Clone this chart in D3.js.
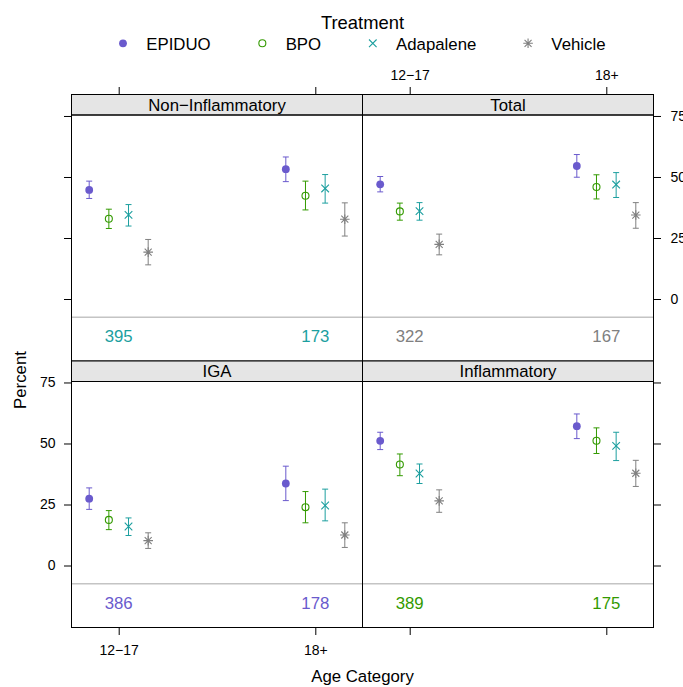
<!DOCTYPE html>
<html>
<head>
<meta charset="utf-8">
<script src="https://cdn.jsdelivr.net/npm/d3@7"></script>
<style>
  html, body { margin: 0; padding: 0; background: #ffffff; }
  svg { display: block; }
  text { font-family: "Liberation Sans", Arial, Helvetica, sans-serif; }
</style>
</head>
<body>
<script>
// ---- data -------------------------------------------------------------
const measures = ["Non\u2212Inflammatory", "Total", "IGA", "Inflammatory"];
const ageGroups = ["12\u221217", "18+"];
const treatments = ["EPIDUO", "BPO", "Adapalene", "Vehicle"];
const yTicks = [0, 25, 50, 75];

// success percent per treatment, [12−17, 18+]
const nonInflammatoryPct = [[44.7, 53.2], [32.9, 42.3], [34.5, 45.3], [19.2, 32.7]];
const nonInflammatoryLow = [[41.2, 48.1], [28.9, 36.5], [29.9, 39.3], [14.0, 25.8]];
const nonInflammatoryHigh = [[48.3, 58.2], [36.8, 48.3], [38.7, 51.0], [24.4, 39.4]];

const totalPct = [[47.0, 54.5], [35.9, 45.9], [36.0, 46.9], [22.4, 34.4]];
const totalLow = [[43.9, 49.9], [32.3, 41.0], [32.3, 41.6], [18.1, 29.0]];
const totalHigh = [[50.2, 59.2], [39.3, 50.9], [39.5, 51.8], [26.6, 39.5]];

const igaPct = [[27.4, 33.6], [18.7, 23.9], [16.0, 24.6], [10.2, 12.5]];
const igaLow = [[23.0, 26.6], [14.7, 17.5], [12.3, 18.3], [7.0, 7.4]];
const igaHigh = [[31.8, 40.7], [22.5, 30.3], [19.5, 31.3], [13.4, 17.5]];

const inflammatoryPct = [[51.1, 57.1], [41.4, 51.1], [37.7, 49.0], [26.5, 37.8]];
const inflammatoryLow = [[47.5, 52.0], [36.8, 45.9], [33.6, 43.0], [21.8, 32.4]];
const inflammatoryHigh = [[54.6, 62.1], [45.7, 56.4], [41.6, 54.6], [31.0, 43.1]];

// number of subjects per age group, one row per measure
const subjectCounts = [[395, 173], [322, 167], [386, 178], [389, 175]];

// ---- styling ----------------------------------------------------------
const colours = ["#6a5acd", "#339a00", "#1c9f9f", "#808080"];
const countColourIndex = [2, 3, 0, 1];
const fontFamily = '"Liberation Sans", Arial, Helvetica, sans-serif';

const W = 683, H = 687;
const plotLeft = 71.5, panelW = 291;
const plotTop = 94.5, stripH = 20.5, bodyH = 246;
const tickLen = 7.5;

const pctSeries = [
  [nonInflammatoryPct, nonInflammatoryLow, nonInflammatoryHigh],
  [totalPct, totalLow, totalHigh],
  [igaPct, igaLow, igaHigh],
  [inflammatoryPct, inflammatoryLow, inflammatoryHigh]
];

const svg = d3.select("body").append("svg")
  .attr("width", W).attr("height", H)
  .attr("viewBox", `0 0 ${W} ${H}`);

// dodge of each treatment within an age group, in x-data units
const dodge = d3.scaleBand().domain(treatments).range([-0.2, 0.2]);
const dodgeAt = t => dodge(t) + dodge.bandwidth() / 2;

function marker(sel, ti, colour) {
  if (ti === 0) {
    sel.append("circle").attr("r", 3.9).attr("fill", colour);
  } else if (ti === 1) {
    sel.append("circle").attr("r", 3.5).attr("fill", "none")
      .attr("stroke", colour).attr("stroke-width", 1.1);
  } else if (ti === 2) {
    const s = 3.8;
    sel.append("path")
      .attr("d", `M${-s},${-s}L${s},${s}M${-s},${s}L${s},${-s}`)
      .attr("stroke", colour).attr("stroke-width", 1.1).attr("fill", "none");
  } else {
    const s = 3.5, p = 4.8;
    sel.append("path")
      .attr("d", `M${-s},${-s}L${s},${s}M${-s},${s}L${s},${-s}M0,${-p}L0,${p}M${-p},0L${p},0`)
      .attr("stroke", colour).attr("stroke-width", 1.1).attr("fill", "none");
  }
}

measures.forEach((name, mi) => {
  const col = mi % 2, row = Math.floor(mi / 2);
  const x0 = plotLeft + col * panelW;
  const stripTop = plotTop + row * (stripH + bodyH);
  const bodyTop = stripTop + stripH;
  const bodyBottom = bodyTop + bodyH;

  const x = d3.scaleLinear().domain([0.76, 2.24]).range([x0, x0 + panelW]);
  const y = d3.scaleLinear().domain([-25.4, 75.4]).range([bodyBottom, bodyTop]);

  const g = svg.append("g");

  // strip
  g.append("rect")
    .attr("x", x0).attr("y", stripTop).attr("width", panelW).attr("height", stripH)
    .attr("fill", "#e5e5e5").attr("stroke", "#000").attr("stroke-width", 1);
  g.append("text")
    .attr("x", x0 + panelW / 2).attr("y", stripTop + stripH / 2 + 6)
    .attr("text-anchor", "middle").attr("font-size", 16.8).attr("fill", "#000")
    .text(name);

  // separator between estimates and subject counts
  g.append("line")
    .attr("x1", x0).attr("x2", x0 + panelW)
    .attr("y1", y(-7.5)).attr("y2", y(-7.5))
    .attr("stroke", "#c4c4c4").attr("stroke-width", 1.5);

  // subject counts
  g.selectAll("text.count").data(ageGroups).join("text")
    .attr("class", "count")
    .attr("x", (d, i) => x(i + 1)).attr("y", y(-15.3))
    .attr("dy", "0.36em")
    .attr("text-anchor", "middle").attr("font-size", 16.8)
    .attr("fill", colours[countColourIndex[mi]])
    .text((d, i) => subjectCounts[mi][i]);

  // estimates with confidence intervals
  const [pct, lo, hi] = pctSeries[mi];
  treatments.forEach((t, ti) => {
    ageGroups.forEach((a, ai) => {
      const cx = x(ai + 1 + dodgeAt(t));
      const c = colours[ti];
      const eg = g.append("g").attr("stroke", c).attr("stroke-width", 1).attr("fill", "none");
      eg.append("line").attr("x1", cx).attr("x2", cx)
        .attr("y1", y(lo[ti][ai])).attr("y2", y(hi[ti][ai]));
      eg.append("line").attr("x1", cx - 3).attr("x2", cx + 3)
        .attr("y1", y(lo[ti][ai])).attr("y2", y(lo[ti][ai]));
      eg.append("line").attr("x1", cx - 3).attr("x2", cx + 3)
        .attr("y1", y(hi[ti][ai])).attr("y2", y(hi[ti][ai]));
      const mg = g.append("g").attr("transform", `translate(${cx},${y(pct[ti][ai])})`);
      marker(mg, ti, c);
    });
  });

  // panel border
  g.append("rect")
    .attr("x", x0).attr("y", bodyTop).attr("width", panelW).attr("height", bodyH)
    .attr("fill", "none").attr("stroke", "#000").attr("stroke-width", 1);

  // axes on the outer sides
  const styleAxis = sel => {
    sel.select(".domain").remove();
    sel.attr("font-size", 14).attr("font-family", fontFamily);
    sel.selectAll("line").attr("stroke", "#000");
    sel.selectAll("text").attr("fill", "#000");
  };
  const ageTickFmt = (d) => ageGroups[d - 1];
  if (col === 0) {
    const ax = d3.axisLeft(y).tickValues(yTicks).tickSize(tickLen).tickPadding(8.5);
    if (row === 0) ax.tickFormat("");
    g.append("g").attr("transform", `translate(${x0},0)`).call(ax).call(styleAxis);
  } else {
    const ax = d3.axisRight(y).tickValues(yTicks).tickSize(tickLen).tickPadding(9.5);
    if (row === 1) ax.tickFormat("");
    g.append("g").attr("transform", `translate(${x0 + panelW},0)`).call(ax).call(styleAxis);
  }
  if (row === 0) {
    const ax = d3.axisTop(x).tickValues([1, 2]).tickSize(tickLen).tickPadding(7)
      .tickFormat(col === 1 ? ageTickFmt : "");
    g.append("g").attr("transform", `translate(0,${stripTop})`).call(ax).call(styleAxis);
  } else {
    const ax = d3.axisBottom(x).tickValues([1, 2]).tickSize(tickLen).tickPadding(10)
      .tickFormat(col === 0 ? ageTickFmt : "");
    g.append("g").attr("transform", `translate(0,${bodyBottom})`).call(ax).call(styleAxis);
  }
});

// axis titles
const centreX = plotLeft + panelW;
svg.append("text")
  .attr("x", centreX).attr("y", 682)
  .attr("text-anchor", "middle").attr("font-size", 16.8).attr("fill", "#000")
  .text("Age Category");
svg.append("text")
  .attr("transform", "translate(25.5,380) rotate(-90)")
  .attr("text-anchor", "middle").attr("font-size", 16.8).attr("fill", "#000")
  .text("Percent");

// legend
svg.append("text")
  .attr("x", centreX).attr("y", 29)
  .attr("text-anchor", "middle").attr("font-size", 18.4).attr("fill", "#000")
  .text("Treatment");

const legend = svg.append("g");
let lx = 123;
treatments.forEach((t, ti) => {
  const item = legend.append("g");
  const mg = item.append("g").attr("transform", `translate(${lx},43.3)`);
  marker(mg, ti, colours[ti]);
  const label = item.append("text")
    .attr("x", lx + 23.3).attr("y", 49.5)
    .attr("font-size", 16.8).attr("fill", "#000")
    .text(t);
  lx += 23.3 + label.node().getComputedTextLength() + 51.7;
});
</script>
</body>
</html>
